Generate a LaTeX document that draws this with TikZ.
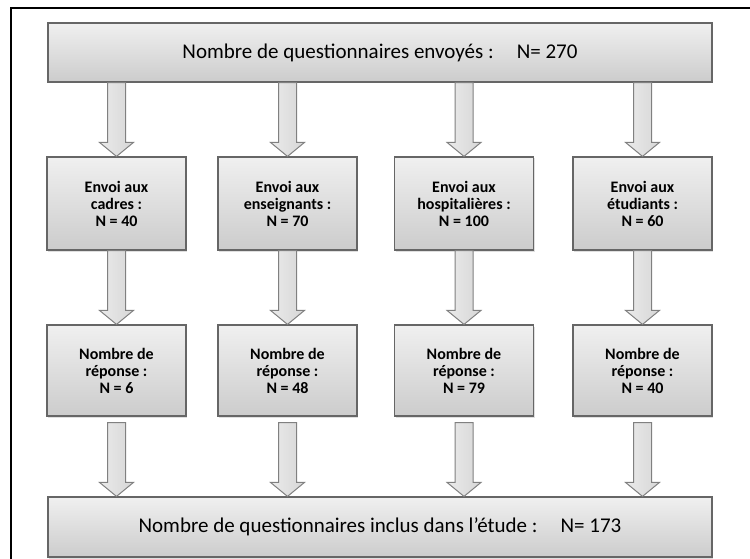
\documentclass[tikz,border=0pt]{standalone}
\usepackage{fontspec}
\setmainfont{Carlito}
\usetikzlibrary{calc,shadows}

\begin{document}
\begin{tikzpicture}[x=1pt,y=-1pt,
  every node/.append style={inner sep=0pt,align=center},
  box/.style={draw=black!60,line width=1.2pt,top color=black!6,bottom color=black!20,
    drop shadow={opacity=0.25,shadow xshift=1pt,shadow yshift=-1.5pt}},
  fatarrow/.style={draw=black!50,line width=1pt,left color=black!8,right color=black!16,
    to path={let \p1=(\tikztostart), \p2=(\tikztotarget) in
      (\x1-9pt,\y1-#1) -- (\x1-9pt,\y2+14pt) -- (\x1-17pt,\y2+14pt) -- (\x1,\y2)
      -- (\x1+17pt,\y2+14pt) -- (\x1+9pt,\y2+14pt) -- (\x1+9pt,\y1-#1) -- cycle}},
  fatarrow/.default=0pt]
  \tikzstyle{wide} = [box,minimum width=664pt,font=\fontsize{21}{25}\selectfont]
  \tikzstyle{small} = [box,minimum width=139pt,font=\fontsize{16}{17}\selectfont\bfseries]
  \useasboundingbox (0,0) rectangle (750,559);
  \draw[line width=1.5pt] (11,559) -- (11,8) -- (750,8);

  \node (0_1) [wide,minimum height=59pt] at (380,52.5) {Nombre de questionnaires envoyés :\hspace{1.1em}N= 270};

  \node (1_1) [small,minimum height=93pt] at (116.5,203.5) {Envoi aux\\cadres :\\N = 40};
  \node (1_2) [small,minimum height=93pt] at (287.5,203.5) {Envoi aux\\enseignants :\\N = 70};
  \node (1_3) [small,minimum height=93pt] at (464,203.5) {Envoi aux\\hospitalières :\\N = 100};
  \node (1_4) [small,minimum height=93pt] at (642.5,203.5) {Envoi aux\\étudiants :\\N = 60};

  \node (2_1) [small,minimum height=91pt] at (116.5,370.5) {Nombre de\\réponse :\\N = 6};
  \node (2_2) [small,minimum height=91pt] at (287.5,370.5) {Nombre de\\réponse :\\N = 48};
  \node (2_3) [small,minimum height=91pt] at (464,370.5) {Nombre de\\réponse :\\N = 79};
  \node (2_4) [small,minimum height=91pt] at (642.5,370.5) {Nombre de\\réponse :\\N = 40};

  \node (3_1) [wide,minimum height=60pt] at (380,527) {Nombre de questionnaires inclus dans l’étude :\hspace{1.1em}N= 173};

  \foreach \i in {1,...,4} {
    \draw[fatarrow] (0_1.south -| 1_\i.north) to (1_\i.north);
    \draw[fatarrow] (1_\i.south) to (2_\i.north);
    \draw[fatarrow=6pt] (2_\i.south) to (3_1.north -| 2_\i.south);
  }
\end{tikzpicture}
\end{document}
